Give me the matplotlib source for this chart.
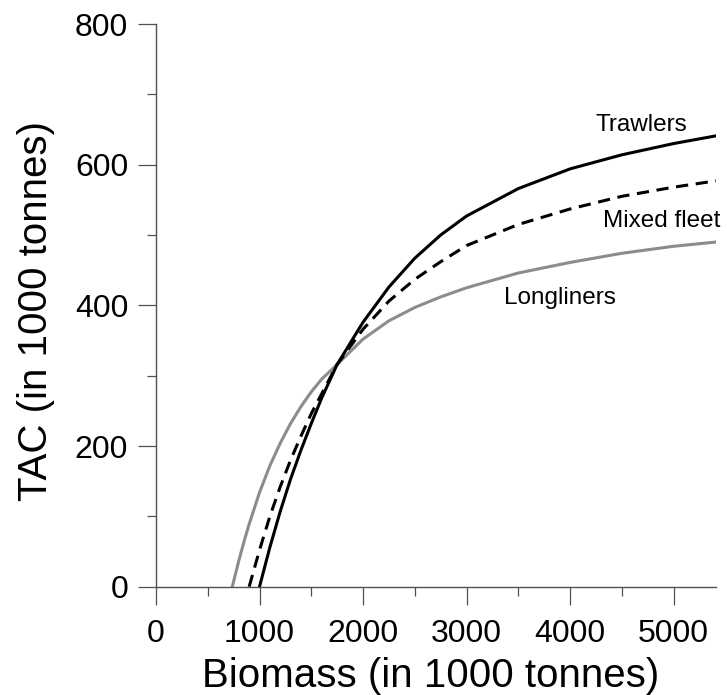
import matplotlib.pyplot as plt
from matplotlib.ticker import MultipleLocator

plt.rcParams['font.family'] = ['Liberation Sans', 'DejaVu Sans']

# Biomass / TAC values (1000 tonnes)
long_b = [737, 800, 850, 900, 1000, 1100, 1200, 1300, 1400, 1500, 1600, 1750,
          2000, 2250, 2500, 2750, 3000, 3500, 4000, 4500, 5000, 5410]
long_tac = [0, 37, 64, 89, 134, 172, 204, 232, 256, 277, 295, 316,
            352, 378, 397, 412, 425, 446, 461, 474, 484, 490]

trawl_b = [1000, 1100, 1200, 1300, 1400, 1500, 1600, 1750, 2000, 2250,
           2500, 2750, 3000, 3500, 4000, 4500, 5000, 5410]
trawl_tac = [0, 56, 107, 153, 194, 232, 268, 316, 376, 426,
             467, 500, 527, 566, 594, 614, 630, 641]

mixed_b = [900, 1000, 1100, 1200, 1300, 1400, 1500, 1600, 1750, 2000,
           2250, 2500, 2750, 3000, 3500, 4000, 4500, 5000, 5410]
mixed_tac = [0, 52, 100, 142, 180, 214, 246, 274, 316, 366,
             406, 437, 462, 485, 515, 537, 555, 568, 577]

fig = plt.figure(figsize=(7.27, 6.95), dpi=100)
ax = fig.add_axes([156 / 727, 1 - 586.7 / 695, 560 / 727, 562.7 / 695])

ax.plot(long_b, long_tac, color='#8c8c8c', lw=2.2)
ax.plot(mixed_b, mixed_tac, color='black', lw=2.2, ls=(0, (4, 2.5)))
ax.plot(trawl_b, trawl_tac, color='black', lw=2.2)

ax.text(4690, 657, 'Trawlers', fontsize=17.5, ha='center', va='center')
ax.text(4890, 520, 'Mixed fleet', fontsize=17.5, ha='center', va='center')
ax.text(3907, 410, 'Longliners', fontsize=17.5, ha='center', va='center')

ax.set_xlim(0, 5410)
ax.set_ylim(0, 800)
for s in ['top', 'right']:
    ax.spines[s].set_visible(False)
for s in ['left', 'bottom']:
    ax.spines[s].set_color('#505050')
    ax.spines[s].set_linewidth(1.0)

ax.xaxis.set_major_locator(MultipleLocator(1000))
ax.xaxis.set_minor_locator(MultipleLocator(500))
ax.yaxis.set_major_locator(MultipleLocator(200))
ax.yaxis.set_minor_locator(MultipleLocator(100))
ax.tick_params(which='major', length=13, width=0.9, color='#505050',
               labelsize=23)
ax.tick_params(axis='x', which='major', pad=10)
ax.tick_params(axis='y', which='major', pad=7)
ax.tick_params(which='minor', length=6.5, width=0.9, color='#505050')

ax.set_xlabel('Biomass (in 1000 tonnes)', fontsize=29)
ax.set_ylabel('TAC (in 1000 tonnes)', fontsize=29)
ax.xaxis.set_label_coords(0.49, -0.125)
ax.yaxis.set_label_coords(-0.18, 0.49)

fig.savefig('out.png', dpi=100)
